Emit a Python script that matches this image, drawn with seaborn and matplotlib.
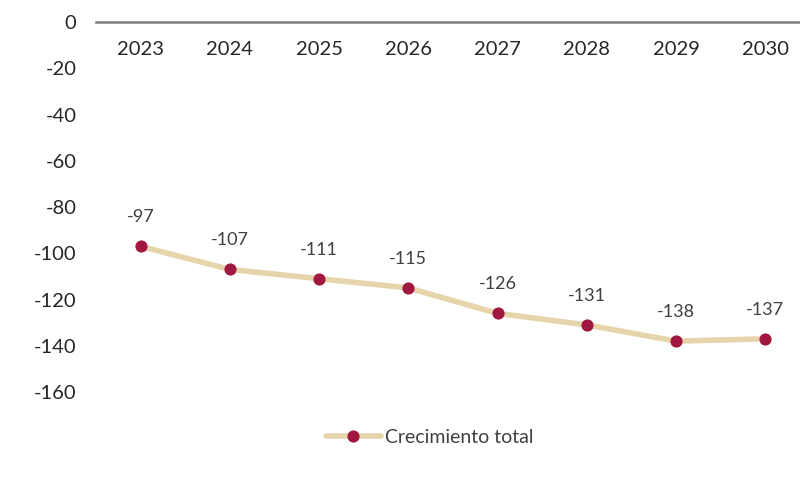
import pandas as pd
import matplotlib.pyplot as plt
import seaborn as sns

# Data
years = ["2023", "2024", "2025", "2026", "2027", "2028", "2029", "2030"]
crecimiento = [-97, -107, -111, -115, -126, -131, -138, -137]
y_ticks = [0, -20, -40, -60, -80, -100, -120, -140, -160]

df = pd.DataFrame({"year": years, "value": crecimiento})

sns.set_theme(style="white")
plt.rcParams["font.family"] = ["Lato", "DejaVu Sans"]

line_color = "#E6D4AA"
dot_color = "#A0173F"

fig = plt.figure(figsize=(8, 4.82), dpi=100)
ax = fig.add_axes([0.12, 0.1867, 0.8925, 0.7676])

sns.lineplot(data=df, x="year", y="value", ax=ax, color=line_color, linewidth=4,
             marker="o", markersize=8, markerfacecolor=dot_color,
             markeredgecolor=dot_color, label="Crecimiento total", sort=False)

# value labels
for i, v in enumerate(crecimiento):
    ax.annotate(str(v), (i, v), xytext=(0, 21), textcoords="offset points",
                ha="center", va="center", fontsize=13, color="#404040")

ax.set_xlim(-0.5, len(years) - 0.5)
ax.set_ylim(-160, 0)
ax.set_yticks(y_ticks)
ax.set_yticklabels([str(t) for t in y_ticks])
ax.set_xlabel("")
ax.set_ylabel("")

# axis line at zero on top, year labels just below it
for s in ["left", "right", "bottom"]:
    ax.spines[s].set_visible(False)
ax.spines["top"].set_color("#7F7F7F")
ax.spines["top"].set_linewidth(1.8)
ax.tick_params(axis="x", top=False, bottom=False, labeltop=True,
               labelbottom=False, pad=-32, labelsize=14.5, labelcolor="#262626")
ax.tick_params(axis="y", left=False, pad=8, labelsize=14.5, labelcolor="#262626")

ax.get_legend().remove()
h, l = ax.get_legend_handles_labels()
fig.legend(h, l, loc="center", bbox_to_anchor=(0.537, 0.093), frameon=False,
           fontsize=14, labelcolor="#404040", handlelength=2.8, handletextpad=0.2)

fig.savefig("out.png", dpi=100, facecolor="white")
